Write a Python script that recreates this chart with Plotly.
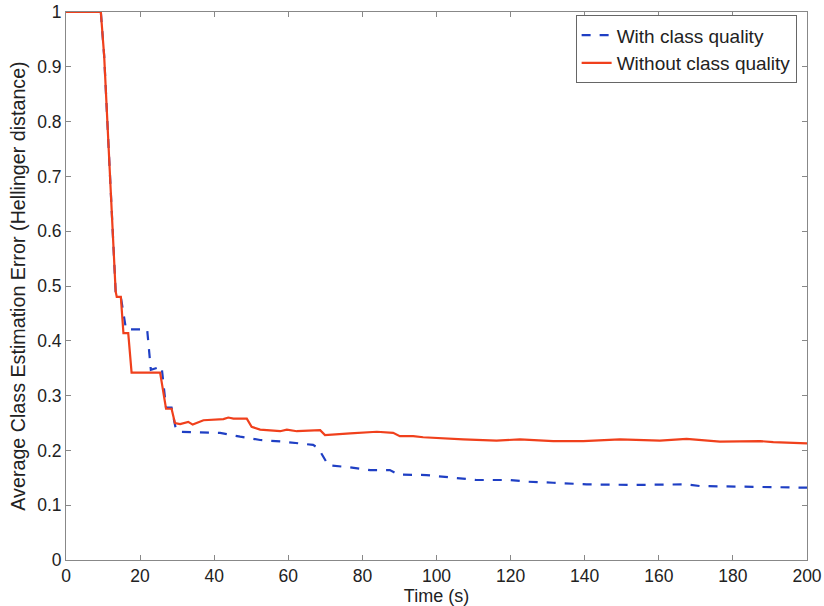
import plotly.graph_objects as go

red_x = [0, 9.4, 10.3, 13.4, 13.7, 14.8, 15.5, 16.8, 17.7, 25.4, 27.0, 28.5, 29.4, 30.8, 33.0, 34.2, 37.1,
         42.5, 43.8, 45.2, 48.8, 50.1, 52.4, 57.8, 59.6, 62.3, 68.6, 69.9, 76.7, 83.9, 88.3, 90.1, 93.7,
         96.4, 107.2, 116.2, 122.5, 131.5, 139.6, 149.5, 160.3, 167.5, 176.5, 187.3, 190.9, 200]
red_y = [1, 1, 0.92, 0.49, 0.48, 0.48, 0.414, 0.414, 0.342, 0.342, 0.276, 0.276, 0.25, 0.248, 0.252, 0.247, 0.255,
         0.257, 0.26, 0.258, 0.258, 0.243, 0.238, 0.235, 0.238, 0.235, 0.237, 0.228, 0.231, 0.234, 0.232, 0.226, 0.226,
         0.224, 0.220, 0.218, 0.220, 0.217, 0.217, 0.220, 0.218, 0.221, 0.216, 0.217, 0.215, 0.213]

blue_x = [0, 9.4, 10.3, 13.4, 14.8, 16.2, 21.9, 22.9, 25.8, 27.0, 28.5, 29.7, 31.2, 41.6, 47.0, 52.4, 58.6,
          66.7, 68.1, 69.4, 70.8, 76.7, 82.1, 87.4, 89.7, 97.3, 104.5, 110.8, 119.8, 124.3, 131.5, 140.5,
          153.1, 167.5, 171.1, 185.5, 200]
blue_y = [1, 1, 0.92, 0.49, 0.48, 0.421, 0.421, 0.347, 0.353, 0.278, 0.278, 0.237, 0.234, 0.232, 0.225, 0.219, 0.216,
          0.210, 0.204, 0.189, 0.173, 0.169, 0.164, 0.164, 0.156, 0.155, 0.150, 0.146, 0.146, 0.143, 0.141, 0.138,
          0.137, 0.138, 0.135, 0.134, 0.132]

x_ticks = list(range(0, 201, 20))
y_ticks = [0, 0.1, 0.2, 0.3, 0.4, 0.5, 0.6, 0.7, 0.8, 0.9, 1]
y_labels = ["0", "0.1", "0.2", "0.3", "0.4", "0.5", "0.6", "0.7", "0.8", "0.9", "1"]

FONT = "Liberation Sans, Arial, Helvetica"
TXT = "#222222"

fig = go.Figure()
fig.add_trace(go.Scatter(x=blue_x, y=blue_y, mode="lines", name="With class quality",
                         line=dict(color="#1f3fc4", width=2.2, dash="dash")))
fig.add_trace(go.Scatter(x=red_x, y=red_y, mode="lines", name="Without class quality",
                         line=dict(color="#f0401c", width=2.2)))

axis_common = dict(showgrid=False, zeroline=False, showline=True, linecolor="#888888", linewidth=1,
                   ticks="inside", ticklen=5, tickcolor="#888888", mirror="ticks", automargin=False,
                   tickfont=dict(family=FONT, size=17.5, color=TXT))

fig.update_xaxes(range=[0, 200], tickvals=x_ticks,
                 title=dict(text="Time (s)", font=dict(family=FONT, size=18, color=TXT), standoff=0),
                 **axis_common)
fig.update_yaxes(range=[0, 1], tickvals=y_ticks, ticktext=y_labels,
                 title=dict(text="Average Class Estimation Error (Hellinger distance)",
                            font=dict(family=FONT, size=19.7, color=TXT), standoff=6),
                 **axis_common)

fig.update_layout(
    width=824, height=606,
    margin=dict(l=66, r=17, t=12, b=46),
    paper_bgcolor="white", plot_bgcolor="white",
    font=dict(family=FONT, size=18, color=TXT),
    legend=dict(x=0.986, y=0.994, xanchor="right", yanchor="top", bgcolor="white",
                bordercolor="#666666", borderwidth=1, font=dict(size=19, family=FONT, color=TXT),
                tracegroupgap=0, itemwidth=30),
    showlegend=True,
)

fig.write_html("out.html")
